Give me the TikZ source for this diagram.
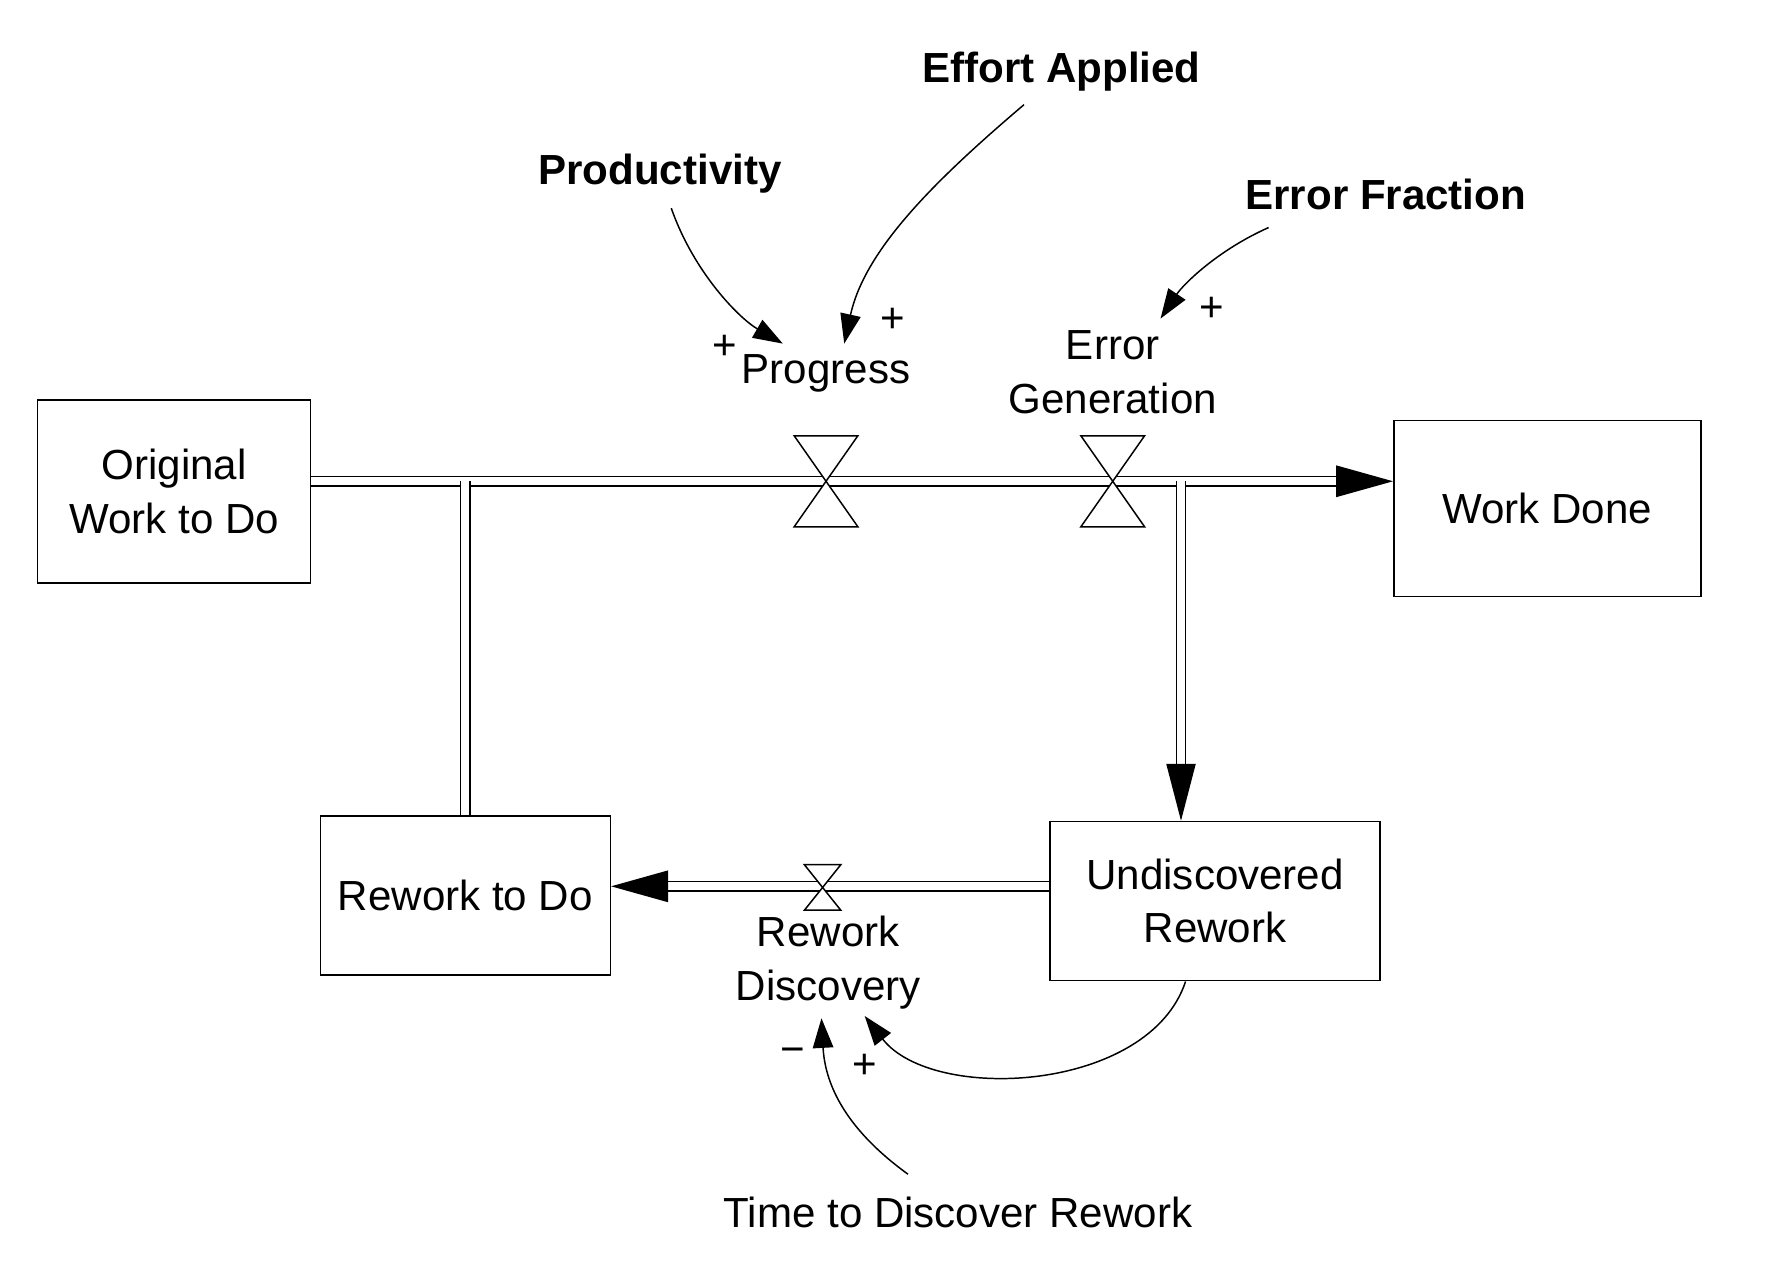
\documentclass[tikz,border=0pt]{standalone}
\usepackage{fontspec}
\setmainfont{Liberation Sans}
\usetikzlibrary{arrows.meta}
\begin{document}
\begin{tikzpicture}[x=1pt,y=-1pt,
  box/.style={draw,line width=1.3pt,inner sep=0pt,align=center},
  lbl/.style={align=center,font=\fontsize{37}{47}\selectfont,inner sep=0pt},
  blbl/.style={lbl,font=\fontsize{37}{47}\selectfont\bfseries},
  pipe/.style={double,line width=1.3pt,double distance=7pt},
  link/.style={line width=1.3pt,-{Triangle[length=26pt,width=18pt]}},
  valve/.style={fill=white,line width=1.3pt}]
\useasboundingbox (0,0) rectangle (1568,1118);
\node[box,minimum width=240,minimum height=161,lbl,draw] (owd) at (153,432) {Original\\Work to Do};
\node[box,minimum width=270,minimum height=155,lbl,draw] (wd) at (1360,447) {Work Done};
\node[box,minimum width=255,minimum height=140,lbl,draw] (rtd) at (409,787) {Rework to Do};
\node[box,minimum width=290,minimum height=140,lbl,draw] (ur) at (1068,792) {Undiscovered\\Rework};
% pipes
\coordinate (j1) at (409,423);
\coordinate (j2) at (1038,423);
\coordinate (wdin) at (1185,423);
\coordinate (urin) at (1038,690);
\coordinate (rtdin) at (578,779);
\draw[pipe] (owd.east |- j1) -- (wdin);
\draw[pipe] (rtd.north -| j1) -- (j1);
\draw[pipe] (j2) -- (urin);
\draw[pipe] (ur.west |- rtdin) -- (rtdin);
\fill (wd.west |- wdin) -- ++(-50,-14) -- ++(0,28) -- cycle;
\fill (ur.north -| urin) -- ++(-13,-50) -- ++(26,0) -- cycle;
\fill (rtd.east |- rtdin) -- ++(50,-14) -- ++(0,28) -- cycle;
% valves
\foreach \n/\x/\y/\w/\h in {vp/726/423/28/40, ve/978/423/28/40, vr/723/780/16/20}{
  \draw[valve] (\x-\w,\y-\h) -- (\x+\w,\y-\h) -- (\x,\y) -- cycle;
  \draw[valve] (\x-\w,\y+\h) -- (\x+\w,\y+\h) -- (\x,\y) -- cycle;
  \coordinate (\n) at (\x,\y);
}
% labels
\node[lbl] (prog) at (726,328) {Progress};
\node[lbl] (eg) at (978,327) {Error\\Generation};
\node[lbl] (rd) at (728,846) {Rework\\Discovery};
\node[blbl] (ea) at (933,63) {Effort Applied};
\node[blbl] (pr) at (580,153) {Productivity};
\node[blbl] (ef) at (1218,171) {Error Fraction};
\node[lbl] (td) at (842,1066) {Time to Discover Rework};
\node[lbl] at (637,305) {+};
\node[lbl] at (785,282) {+};
\node[lbl] at (1065,272) {+};
\node[lbl] at (697,928) {\textminus};
\node[lbl] at (760,937) {+};
% links
\draw[link] (590,183) .. controls (610,240) and (650,280) .. (688,302);
\draw[link] (900,92) .. controls (820,160) and (760,220) .. (742,302);
\draw[link] (1115,200) .. controls (1070,220) and (1040,250) .. (1020,280);
\draw[link] (ur.south -| 1042,0) .. controls (1010,960) and (820,970) .. (760,893);
\draw[link] (798,1032) .. controls (740,990) and (725,950) .. (722,895);
\end{tikzpicture}
\end{document}
